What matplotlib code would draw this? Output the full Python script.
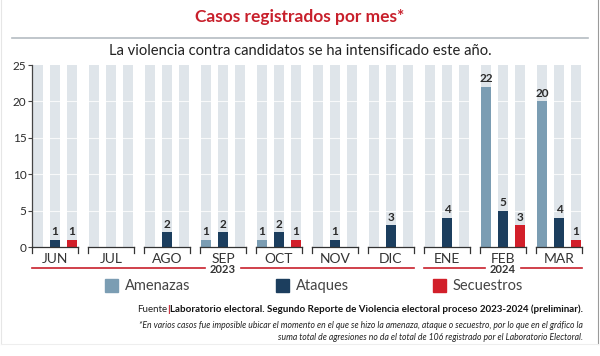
import matplotlib
matplotlib.use("Agg")
import matplotlib.pyplot as plt
from matplotlib.patches import Rectangle
from matplotlib.lines import Line2D

plt.rcParams['font.family'] = ['Lato', 'DejaVu Sans']

months = ["JUN", "JUL", "AGO", "SEP", "OCT", "NOV", "DIC", "ENE", "FEB", "MAR"]
years = ["2023", "2024"]
year_spans = [(0, 6), (7, 9)]
series_names = ["Amenazas", "Ataques", "Secuestros"]
amenazas = [0, 0, 0, 1, 1, 0, 0, 0, 22, 20]
ataques = [1, 0, 2, 2, 2, 1, 3, 4, 5, 4]
secuestros = [1, 0, 0, 0, 1, 0, 0, 0, 3, 1]
yticks = [0, 5, 10, 15, 20, 25]

colors = ["#7b9db3", "#1c3e5e", "#d21f2a"]
bg_color = "#dfe5ea"
red = "#c8202c"
txt = "#2b2b2b"

W, H = 600, 356
fig = plt.figure(figsize=(6, 3.56), dpi=100)
fig.patch.set_facecolor("white")

def fx(px):
    return px / W

def fy(py):
    return 1 - py / H

# faint card border
fig.add_artist(Line2D([fx(597.5), fx(597.5)], [fy(0), fy(344)], color="#9a9a9a", lw=0.8))
fig.add_artist(Line2D([fx(0.5), fx(0.5)], [fy(0), fy(344)], color="#e6e6e6", lw=0.8))
fig.add_artist(Line2D([fx(0.5), fx(597.5)], [fy(344), fy(344)], color="#eeeeee", lw=0.8))

ax_l, ax_r, ax_t, ax_b = 32, 582, 65, 247
ax = fig.add_axes([fx(ax_l), fy(ax_b), fx(ax_r - ax_l), (ax_b - ax_t) / H])
half = 23 / 56
ax.set_xlim(-half, len(months) - 1 + half)
ax.set_ylim(0, 25)
ppu = (ax_b - ax_t) / 25.0  # pixels per data unit

def dy(px_below):
    return -px_below / ppu

offsets = [-0.304, 0.0, 0.304]
bw = 0.18
xs = list(range(len(months)))
data = [amenazas, ataques, secuestros]

# background bars
for off in offsets:
    ax.bar([x + off for x in xs], [25] * len(xs), width=bw, color=bg_color, zorder=1)
# white gridlines
for v in yticks[1:-1]:
    ax.axhline(v, color="white", lw=0.8, zorder=2, alpha=0.8)
# data bars
for s, (vals, off, c) in enumerate(zip(data, offsets, colors)):
    ax.bar([x + off for x in xs], vals, width=bw, color=c, zorder=3)
    for x, v in zip(xs, vals):
        if v > 0:
            ax.text(x + off, v + 0.35, str(v), ha="center", va="bottom",
                    fontsize=8.5, fontweight="bold", color=txt, zorder=4)

for sp in ["top", "right", "bottom"]:
    ax.spines[sp].set_visible(False)
ax.spines["left"].set_color("#444444")
ax.spines["left"].set_linewidth(0.9)
ax.set_yticks(yticks)
ax.set_yticklabels([str(v) for v in yticks], fontsize=8.5, color=txt)
ax.tick_params(axis="y", length=3, width=0.8, color="#444444", pad=1)
ax.set_xticks([])
ax.set_facecolor("none")

# segmented x axis with end ticks
for x in xs:
    ax.plot([x - half, x + half], [0, 0], color="#333333", lw=0.9,
            clip_on=False, zorder=5)
    for e in (x - half, x + half):
        ax.plot([e, e], [0, dy(6)], color="#333333", lw=0.9, clip_on=False, zorder=5)
    ax.text(x, dy(16), months[x], ha="center", va="baseline", fontsize=10,
            color="#333333")

# year lines
yr_line = dy(21)
yr_base = dy(26)
for yr, (a, b) in zip(years, year_spans):
    x0, x1 = a - half, b + half
    cx = (x0 + x1) / 2
    gap = 0.32
    ax.plot([x0, cx - gap], [yr_line, yr_line], color=red, lw=1.2, clip_on=False)
    ax.plot([cx + gap, x1], [yr_line, yr_line], color=red, lw=1.2, clip_on=False)
    ax.text(cx, yr_base, yr, ha="center", va="baseline", fontsize=8,
            fontweight="bold", color="#333333")

# title and subtitle
fig.text(0.5, fy(17), "Casos registrados por mes*", ha="center", va="center",
         fontsize=12.5, fontweight="bold", color=red)
fig.add_artist(Line2D([fx(12), fx(588)], [fy(38), fy(38)], color="#b5bcc2", lw=1.2))
fig.text(0.5, fy(51), "La violencia contra candidatos se ha intensificado este año.",
         ha="center", va="center", fontsize=10.6, color="#222222")

# legend
leg_x = [105, 276, 433]
for name, c, lx in zip(series_names, colors, leg_x):
    fig.add_artist(Rectangle((fx(lx), fy(292)), fx(13), 13 / H, color=c,
                             transform=fig.transFigure))
    fig.text(fx(lx + 20), fy(286), name, ha="left", va="center",
             fontsize=10.5, color="#444444")

# source
fig.canvas.draw()
r = fig.canvas.get_renderer()
t_bold = fig.text(fx(583), fy(309),
                  "Laboratorio electoral. Segundo Reporte de Violencia electoral proceso 2023-2024 (preliminar).",
                  ha="right", va="center", fontsize=7, fontweight="bold", color="#111111")
bb = t_bold.get_window_extent(r)
bar_x = bb.x0 / fig.dpi / 6 - 0.004
fig.text(bar_x, fy(309), "|", ha="left", va="center", fontsize=7.5,
         color=red, fontweight="bold")
fig.text(bar_x, fy(309), "Fuente", ha="right", va="center", fontsize=7, color="#222222")

fig.text(fx(583), fy(325),
         "*En varios casos fue imposible ubicar el momento en el que se hizo la amenaza, ataque o secuestro, por lo que en el gráfico la",
         ha="right", va="center", fontsize=6.2, style="italic", color="#222222")
fig.text(fx(583), fy(337),
         "suma total de agresiones no da el total de 106 registrado por el Laboratorio Electoral.",
         ha="right", va="center", fontsize=6.2, style="italic", color="#222222")

fig.savefig("out.png", dpi=100, facecolor="white")
